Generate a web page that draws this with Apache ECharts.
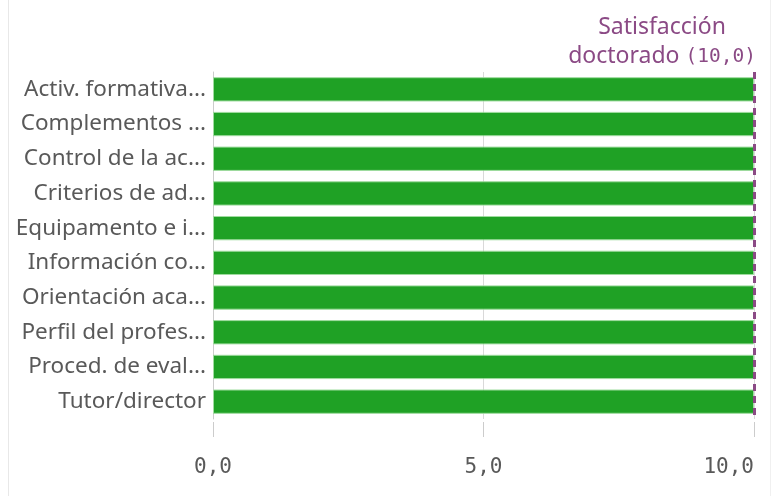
<!DOCTYPE html>
<html>
<head>
<meta charset="utf-8">
<script src="https://cdn.jsdelivr.net/npm/echarts@6/dist/echarts.min.js"></script>
<style>html,body{margin:0;padding:0;background:#fff}#c{width:772px;height:496px}</style>
</head>
<body>
<div id="c"></div>
<script>
var categories = ["Activ. formativa...", "Complementos ...", "Control de la ac...", "Criterios de ad...", "Equipamento e i...", "Información co...", "Orientación aca...", "Perfil del profes...", "Proced. de eval...", "Tutor/director"];
var values = [10, 10, 10, 10, 10, 10, 10, 10, 10, 10];
var refValue = 10;
var refName = "Satisfacción doctorado";
var axisTicks = [0, 5, 10];

var chart = echarts.init(document.getElementById('c'), null, {renderer: 'canvas'});
function fmt(v){ return v.toFixed(1).replace('.', ','); }
chart.setOption({
  animation: false,
  grid: {left: 213, right: 18, top: 72, bottom: 77, containLabel: false},
  xAxis: {
    type: 'value', min: axisTicks[0], max: axisTicks[axisTicks.length-1], interval: axisTicks[1]-axisTicks[0],
    offset: 3,
    axisLine: {show: false},
    axisTick: {show: true, length: 15, lineStyle: {color: '#cccccc', width: 1}},
    axisLabel: {margin: 35, color: '#595959', fontSize: 21, fontFamily: 'DejaVu Sans Mono', formatter: fmt, alignMaxLabel: 'right'},
    splitLine: {show: true, lineStyle: {color: '#d9d9d9', width: 1}}
  },
  yAxis: {
    type: 'category', data: categories, inverse: true,
    axisLine: {show: true, lineStyle: {color: '#cccccc', width: 1}},
    axisTick: {show: false},
    axisLabel: {margin: 7, color: '#595959', fontSize: 22.5, fontFamily: 'Noto Sans'}
  },
  series: [{
    type: 'bar', data: values, barCategoryGap: '30%',
    itemStyle: {color: '#1fa125', borderColor: '#9fdc9f', borderWidth: 1},
    markLine: {
      symbol: 'none', silent: true,
      data: [{xAxis: refValue}],
      lineStyle: {color: '#8b4a85', type: [7, 5], width: 3},
      label: {
        position: 'start', distance: 1, offset: [-92, 0],
        color: '#8b4a85', fontSize: 23, fontFamily: 'Noto Sans', lineHeight: 29, align: 'center',
        rich: {
          a: {color: '#8b4a85', fontSize: 23, fontFamily: 'Noto Sans', lineHeight: 29},
          b: {color: '#8b4a85', fontSize: 19.5, fontFamily: 'DejaVu Sans Mono', lineHeight: 29}
        },
        formatter: function(){ var p = refName.split(' '); return '{a|' + p[0] + '}\n{a|' + p.slice(1).join(' ') + ' }{b|(' + fmt(refValue) + ')}'; }
      }
    }
  }],
  graphic: [
    {type: 'line', shape: {x1: 8.5, y1: 0, x2: 8.5, y2: 496}, style: {stroke: '#e8e8e8', lineWidth: 1}},
    {type: 'line', shape: {x1: 770.5, y1: 0, x2: 770.5, y2: 496}, style: {stroke: '#f0f0f0', lineWidth: 1}}
  ]
});
</script>
</body>
</html>
